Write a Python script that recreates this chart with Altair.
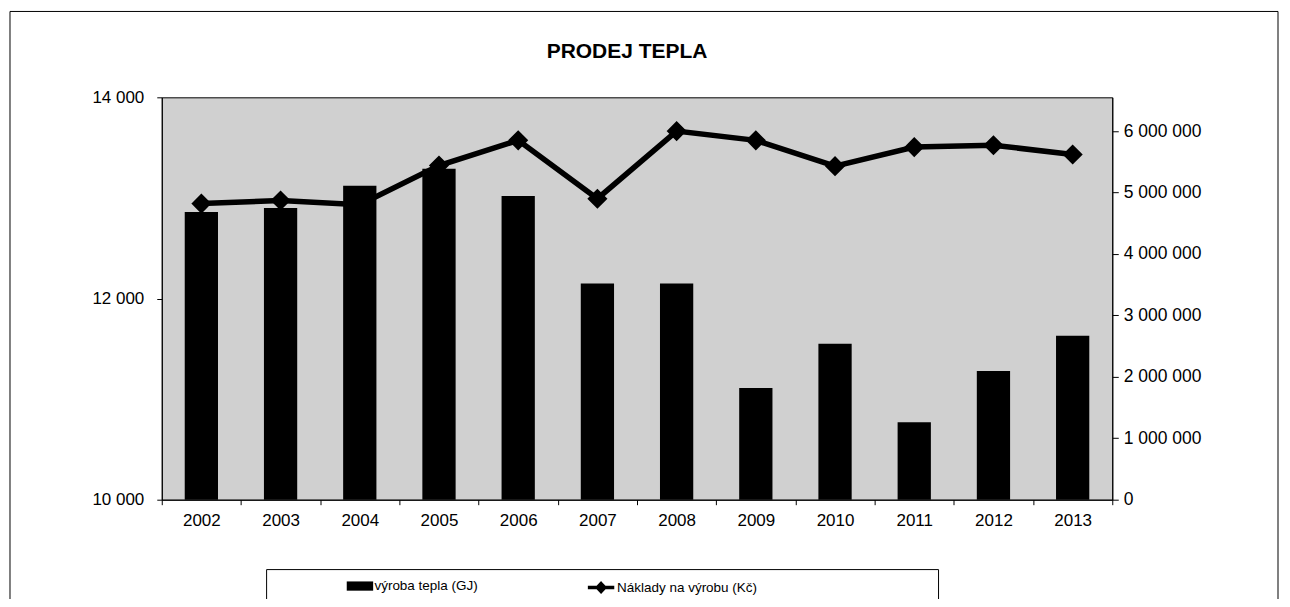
import altair as alt
import pandas as pd

years = [str(y) for y in range(2002, 2014)]
heat_gj = [12860, 12900, 13120, 13290, 13020, 12150, 12150, 11110, 11550, 10770, 11280, 11630]
costs_czk = [4820000, 4870000, 4800000, 5440000, 5850000, 4900000, 6000000, 5850000, 5430000, 5740000, 5770000, 5620000]
left_ticks = [10000, 12000, 14000]
right_ticks = [0, 1000000, 2000000, 3000000, 4000000, 5000000, 6000000]
s_bar = "výroba tepla (GJ)"
s_line = "Náklady na výrobu (Kč)"
title_text = "PRODEJ TEPLA"

df = pd.DataFrame({"year": years, "heat": heat_gj, "cost": costs_czk,
                   "s1": [s_bar] * len(years), "s2": [s_line] * len(years)})

FONT = "Liberation Sans"

x_enc = alt.X(
    "year:O",
    sort=years,
    scale=alt.Scale(paddingInner=0, paddingOuter=0),
    axis=alt.Axis(title=None, labelAngle=0, tickBand="extent", labelFontSize=17,
                  labelFont=FONT, labelColor="black", tickColor="black", domainColor="black",
                  tickSize=5, labelPadding=8),
)

bars = alt.Chart(df).mark_bar(width=alt.RelativeBandSize(0.42)).encode(
    x=x_enc,
    y=alt.Y("heat:Q", scale=alt.Scale(domain=[10000, 14000], nice=False, zero=False),
            axis=alt.Axis(title=None, orient="left", values=left_ticks, format=",d", grid=False,
                          labelFontSize=17, labelFont=FONT, labelColor="black", tickColor="black",
                          domainColor="black", tickSize=5, labelPadding=13)),
    y2=alt.Y2(datum=10000),
    color=alt.Color("s1:N",
                    scale=alt.Scale(domain=[s_bar], range=["black"]),
                    legend=alt.Legend(title=None, orient="none", legendX=185, legendY=476,
                                      symbolType="M-1,-0.35H1V0.35H-1Z", symbolSize=700,
                                      labelFontSize=13.5, labelFont=FONT, labelColor="black",
                                      labelOffset=1, padding=0, symbolStrokeWidth=0)),
)

line = alt.Chart(df).mark_line(
    strokeWidth=5.5,
    point=alt.OverlayMarkDef(shape="diamond", size=300, filled=True, fill="black"),
).encode(
    x=x_enc,
    y=alt.Y("cost:Q", scale=alt.Scale(domain=[0, 6550000], nice=False),
            axis=alt.Axis(title=None, orient="right", values=right_ticks, format=",d", grid=False,
                          labelFontSize=17.5, labelFont=FONT, labelColor="black", tickColor="black",
                          domainColor="black", tickSize=6, labelPadding=5)),
    stroke=alt.Stroke("s2:N",
                      scale=alt.Scale(domain=[s_line], range=["black"]),
                      legend=alt.Legend(title=None, orient="none", legendX=425, legendY=476,
                                        symbolType="M-1,0H1M0,-0.3L0.28,0L0,0.3L-0.28,0Z",
                                        symbolSize=700, symbolStrokeWidth=3.5,
                                        labelFontSize=13.5, labelFont=FONT, labelColor="black",
                                        labelOffset=1, padding=0)),
)

frame_df = pd.DataFrame({"k": [0]})
outer_frame = alt.Chart(frame_df).mark_rect(filled=False, stroke="black", strokeWidth=1).encode(
    x=alt.value(-152), x2=alt.value(1118), y=alt.value(-86), y2=alt.value(700)
)
legend_box = alt.Chart(frame_df).mark_rect(filled=False, stroke="black", strokeWidth=1).encode(
    x=alt.value(105), x2=alt.value(778), y=alt.value(473), y2=alt.value(506)
)

chart = alt.layer(bars, line, outer_frame, legend_box).resolve_scale(
    y="independent", color="independent", stroke="independent"
).properties(
    width=952,
    height=403,
    padding={"left": 154, "top": 89, "right": 170, "bottom": 99},
    autosize=alt.AutoSizeParams(type="none"),
    title=alt.Title(title_text, fontSize=21, fontWeight="bold", font=FONT, color="black",
                    offset=-51, dx=-10, anchor="middle"),
    background="white",
).configure_view(
    fill="#d0d0d0", stroke="black", strokeWidth=1
)

chart.save("out.html", embed_options={
    "renderer": "svg", "actions": False,
    "formatLocale": {"decimal": ",", "thousands": " ", "grouping": [3], "currency": ["", " Kč"]},
})
